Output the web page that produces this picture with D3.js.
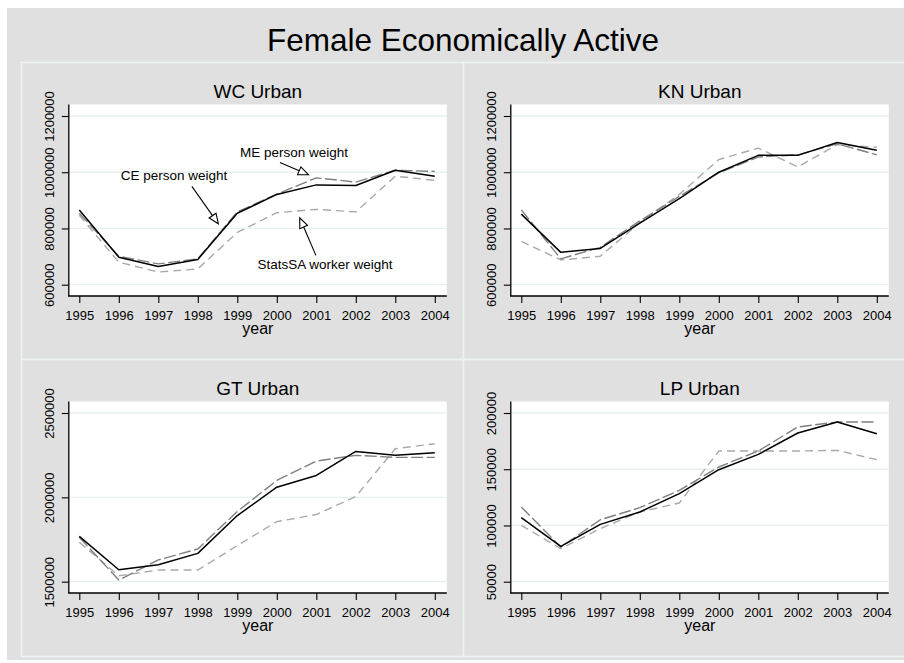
<!DOCTYPE html>
<html>
<head>
<meta charset="utf-8">
<script src="https://cdn.jsdelivr.net/npm/d3@7"></script>
<style>
  html, body { margin: 0; padding: 0; background: #ffffff; }
  svg { display: block; font-family: "Liberation Sans", Arial, sans-serif; }
</style>
</head>
<body>
<svg id="chart" width="904" height="663"></svg>
<script>
// ---------------- data ----------------
const chartTitle = "Female Economically Active";
const years = [1995, 1996, 1997, 1998, 1999, 2000, 2001, 2002, 2003, 2004];
const panelTitles = ["WC Urban", "KN Urban", "GT Urban", "LP Urban"];
const xAxisLabel = "year";

// CE person weight (black solid)
const ceWC = [866000, 698000, 665000, 690000, 854000, 921000, 955000, 953000, 1007000, 986000];
const ceKN = [851000, 715000, 729000, 819000, 906000, 1000000, 1060000, 1060000, 1106000, 1078000];
const ceGT = [1769000, 1571000, 1601000, 1668000, 1892000, 2060000, 2130000, 2272000, 2249000, 2264000];
const ceLP = [106900, 81400, 101000, 112000, 128300, 149600, 163200, 182200, 192000, 181600];

// ME person weight (grey long dash)
const meWC = [854000, 701000, 674000, 692000, 859000, 922000, 980000, 965000, 1007000, 1003000];
const meKN = [866000, 692000, 733000, 827000, 914000, 998000, 1054000, 1062000, 1101000, 1062000];
const meGT = [1763000, 1510000, 1629000, 1694000, 1916000, 2100000, 2215000, 2249000, 2237000, 2237000];
const meLP = [116400, 80800, 105100, 115800, 131200, 152000, 166200, 187600, 192000, 192000];

// StatsSA worker weight (light grey dash)
const ssWC = [847000, 680000, 645000, 656000, 786000, 856000, 868000, 859000, 986000, 971000];
const ssKN = [754000, 688000, 701000, 821000, 921000, 1045000, 1086000, 1019000, 1098000, 1089000];
const ssGT = [1734000, 1535000, 1569000, 1569000, 1714000, 1856000, 1898000, 2005000, 2288000, 2318000];
const ssLP = [100100, 79400, 97200, 112000, 120000, 166200, 166200, 166200, 166800, 158500];

// y tick values per panel
const yTicksWC = [600000, 800000, 1000000, 1200000];
const yTicksKN = [600000, 800000, 1000000, 1200000];
const yTicksGT = [1500000, 2000000, 2500000];
const yTicksLP = [50000, 100000, 150000, 200000];

// annotations in the WC panel (data coordinates: year, value)
const annoLabels = ["CE person weight", "ME person weight", "StatsSA worker weight"];
const annoTextPos = [[1996.05, 973500], [1999.07, 1053800], [1999.51, 654900]];
const annoArrowTail = [[1997.85, 949700], [2000.08, 1034700], [2000.99, 704400]];
const annoArrowTip = [[1998.52, 816600], [2000.80, 991200], [2000.58, 837900]];

// ---------------- drawing ----------------
const panels = [
  { title: panelTitles[0], ce: ceWC, me: meWC, ss: ssWC, ticks: yTicksWC, col: 0, row: 0, anno: true },
  { title: panelTitles[1], ce: ceKN, me: meKN, ss: ssKN, ticks: yTicksKN, col: 1, row: 0 },
  { title: panelTitles[2], ce: ceGT, me: meGT, ss: ssGT, ticks: yTicksGT, col: 0, row: 1 },
  { title: panelTitles[3], ce: ceLP, me: meLP, ss: ssLP, ticks: yTicksLP, col: 1, row: 1 }
];

const svg = d3.select("#chart");
const bg = "#e0e0e0";
const frameCol = "#edf3f4";
const gridCol = "#e8eff1";
const fontFam = "'Liberation Sans', Arial, sans-serif";

// outer graph region
svg.append("rect").attr("x", 7).attr("y", 8).attr("width", 904 - 7).attr("height", 660 - 8).attr("fill", bg);

// title
svg.append("text").attr("x", 463).attr("y", 51).attr("text-anchor", "middle")
  .attr("font-size", 31.5).attr("fill", "#000").text(chartTitle);

const frameX = [21, 463], frameY = [62, 359], frameW = 442, frameH = 297;

// panel frames
panels.forEach(p => {
  svg.append("rect").attr("x", frameX[p.col] + 0.5).attr("y", frameY[p.row] + 0.5)
    .attr("width", frameW).attr("height", frameH)
    .attr("fill", bg).attr("stroke", frameCol).attr("stroke-width", 1.5);
});

const lineStyles = [
  { key: "ss", color: "#a9a9a9", width: 1.4, dash: "8,5" },
  { key: "me", color: "#7f7f7f", width: 1.4, dash: "12,3.5" },
  { key: "ce", color: "#000000", width: 1.5, dash: null }
];

panels.forEach(p => {
  const fx = frameX[p.col], fy = frameY[p.row];
  const left = fx + 47.8, right = fx + 425.8;
  const top = fy + 42.5, bottom = fy + 234;
  const g = svg.append("g");

  const x = d3.scaleLinear().domain([years[0], years[years.length - 1]]).range([left + 10.5, right - 12]);
  const y = d3.scaleLinear().domain([d3.min(p.ticks), d3.max(p.ticks)]).range([bottom - 11.3, top + 11.5]);

  // plot region
  g.append("rect").attr("x", left).attr("y", top).attr("width", right - left).attr("height", bottom - top).attr("fill", "#fff");

  // gridlines
  g.selectAll("line.grid").data(p.ticks).enter().append("line")
    .attr("x1", left).attr("x2", right).attr("y1", d => y(d)).attr("y2", d => y(d))
    .attr("stroke", gridCol).attr("stroke-width", 1.3);

  // subtitle
  g.append("text").attr("x", (left + right) / 2).attr("y", top - 7).attr("text-anchor", "middle")
    .attr("font-size", 19).attr("fill", "#000").text(p.title);

  // y axis
  const ya = g.append("g").attr("transform", `translate(${left},0)`)
    .call(d3.axisLeft(y).tickValues(p.ticks).tickSize(7).tickSizeOuter(0).tickFormat(d3.format("d")));
  ya.select(".domain").remove();
  ya.selectAll(".tick line").attr("stroke", "#000").attr("stroke-width", 1.1);
  ya.selectAll(".tick text").attr("transform", "rotate(-90)").attr("x", 0).attr("y", -14.5).attr("dy", 0)
    .attr("text-anchor", "middle").attr("font-size", 13).attr("fill", "#000")
    .attr("font-family", fontFam);
  g.append("line").attr("x1", left).attr("x2", left).attr("y1", top).attr("y2", bottom + 0.5)
    .attr("stroke", "#000").attr("stroke-width", 1.3);

  // x axis
  const xa = g.append("g").attr("transform", `translate(0,${bottom})`)
    .call(d3.axisBottom(x).tickValues(years).tickSize(7).tickSizeOuter(0).tickFormat(d3.format("d")));
  xa.select(".domain").remove();
  xa.selectAll(".tick line").attr("stroke", "#000").attr("stroke-width", 1.1);
  xa.selectAll(".tick text").attr("y", 24).attr("dy", 0).attr("font-size", 13).attr("fill", "#000")
    .attr("font-family", fontFam);
  g.append("line").attr("x1", left - 0.5).attr("x2", right).attr("y1", bottom).attr("y2", bottom)
    .attr("stroke", "#000").attr("stroke-width", 1.3);

  g.append("text").attr("x", (left + right) / 2).attr("y", bottom + 38).attr("text-anchor", "middle")
    .attr("font-size", 16).attr("fill", "#000").text(xAxisLabel);

  // series lines
  const lineGen = d3.line().x((d, i) => x(years[i])).y(d => y(d));
  lineStyles.forEach(s => {
    g.append("path").datum(p[s.key]).attr("d", lineGen)
      .attr("fill", "none").attr("stroke", s.color).attr("stroke-width", s.width)
      .attr("stroke-dasharray", s.dash).attr("stroke-linejoin", "round");
  });

  // annotations
  if (p.anno) {
    annoLabels.forEach((lab, i) => {
      g.append("text").attr("x", x(annoTextPos[i][0])).attr("y", y(annoTextPos[i][1]))
        .attr("font-size", 13.5).attr("fill", "#000").text(lab);
      const x1 = x(annoArrowTail[i][0]), y1 = y(annoArrowTail[i][1]);
      const x2 = x(annoArrowTip[i][0]), y2 = y(annoArrowTip[i][1]);
      const ang = Math.atan2(y2 - y1, x2 - x1);
      const L = 10, W = 4.2;
      const bx = x2 - L * Math.cos(ang), by = y2 - L * Math.sin(ang);
      g.append("line").attr("x1", x1).attr("y1", y1).attr("x2", bx).attr("y2", by)
        .attr("stroke", "#000").attr("stroke-width", 1.1);
      const pts = [
        [x2, y2],
        [bx + W * Math.sin(ang), by - W * Math.cos(ang)],
        [bx - W * Math.sin(ang), by + W * Math.cos(ang)]
      ];
      g.append("polygon").attr("points", pts.map(q => q.join(",")).join(" "))
        .attr("fill", "#fff").attr("stroke", "#000").attr("stroke-width", 1.1).attr("stroke-linejoin", "miter");
    });
  }
});
</script>
</body>
</html>
